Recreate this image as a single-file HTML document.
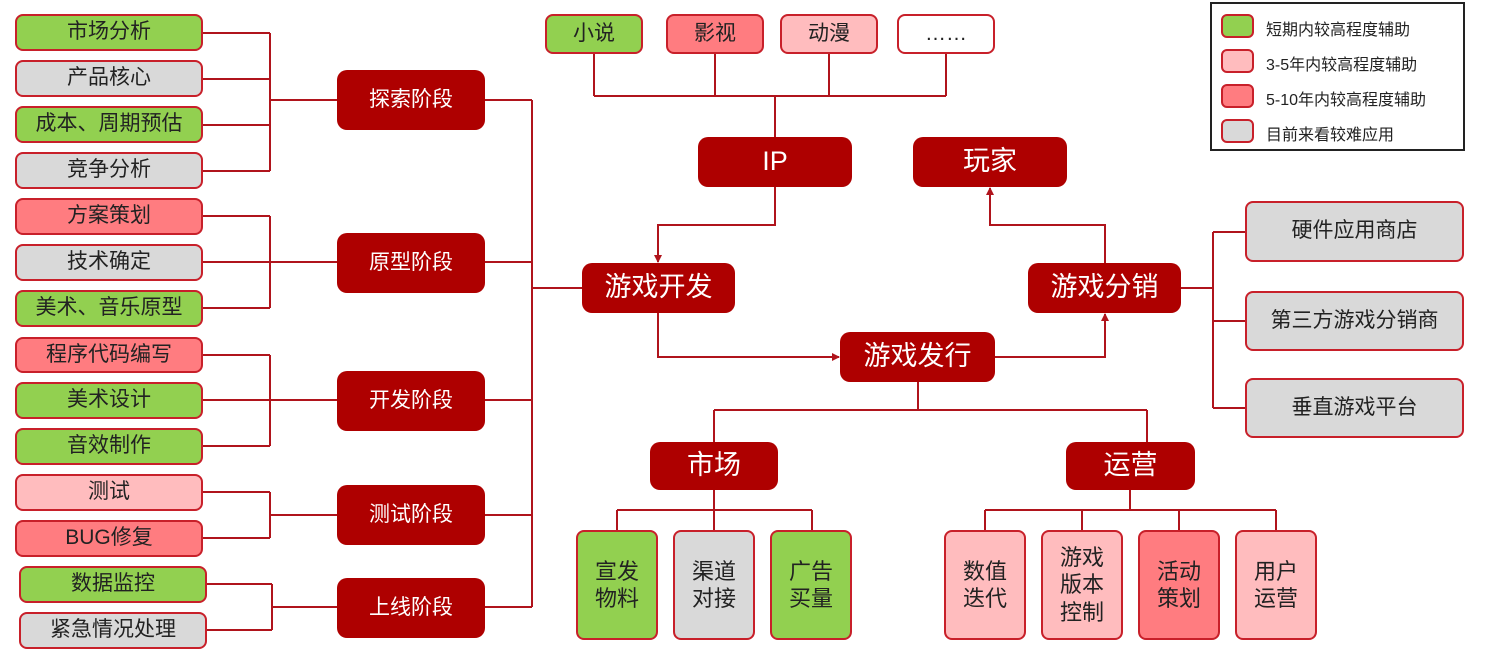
<!DOCTYPE html>
<html><head><meta charset="utf-8"><style>
body{margin:0;width:1492px;height:655px;background:#fff;position:relative;overflow:hidden;font-family:"Liberation Sans","Noto Sans CJK SC",sans-serif}
.b{position:absolute;box-sizing:border-box;border:2px solid #c8202a;border-radius:8px;display:flex;align-items:center;justify-content:center;text-align:center;color:#222;font-size:21px;line-height:1.25}
.g{background:#92d050}.y{background:#d9d9d9}.p{background:#ffbcbe}.r{background:#ff7c80}.w{background:#fff}
.d{background:#ae0000;border:none;color:#fff;border-radius:10px}
.s1{font-size:21px}.s2{font-size:27px}
svg{position:absolute;left:0;top:0}
</style></head><body>
<svg width="1492" height="655" fill="none" stroke="#b0141c" stroke-width="2">
<defs><marker id="a" markerWidth="8" markerHeight="8" refX="7" refY="4" orient="auto" markerUnits="userSpaceOnUse"><path d="M0,0L8,4L0,8z" fill="#b0141c" stroke="none"/></marker></defs>
<path d="M203,33H270M203,79H270M203,125H270M203,171H270M270,33V171M270,100H337"/>
<path d="M203,216H270M203,262H270M203,308H270M270,216V308M270,262H337"/>
<path d="M203,355H270M203,400H270M203,446H270M270,355V446M270,400H337"/>
<path d="M203,492H270M203,538H270M270,492V538M270,515H337"/>
<path d="M207,584H272M207,630H272M272,584V630M272,607H337"/>
<path d="M485,100H532M485,262H532M485,400H532M485,515H532M485,607H532M532,100V607M532,288H582"/>
<path d="M594,54V96M715,54V96M829,54V96M946,54V96M594,96H946M775,96V137"/>
<path d="M775,187V225H658V262" marker-end="url(#a)"/>
<path d="M658,313V357H839" marker-end="url(#a)"/>
<path d="M995,357H1105V314" marker-end="url(#a)"/>
<path d="M1105,263V225H990V188" marker-end="url(#a)"/>
<path d="M1181,288H1213M1213,232V408M1213,232H1245M1213,321H1245M1213,408H1245"/>
<path d="M918,382V410M714,410H1147M714,410V442M1147,410V442"/>
<path d="M714,490V510M617,510H812M617,510V530M714,510V530M812,510V530"/>
<path d="M1130,490V510M985,510H1276M985,510V530M1082,510V530M1179,510V530M1276,510V530"/>
</svg>
<div class="b g" style="left:15px;top:14px;width:188px;height:37px">市场分析</div>
<div class="b y" style="left:15px;top:60px;width:188px;height:37px">产品核心</div>
<div class="b g" style="left:15px;top:106px;width:188px;height:37px">成本、周期预估</div>
<div class="b y" style="left:15px;top:152px;width:188px;height:37px">竞争分析</div>
<div class="b r" style="left:15px;top:198px;width:188px;height:37px">方案策划</div>
<div class="b y" style="left:15px;top:244px;width:188px;height:37px">技术确定</div>
<div class="b g" style="left:15px;top:290px;width:188px;height:37px">美术、音乐原型</div>
<div class="b r" style="left:15px;top:337px;width:188px;height:36px">程序代码编写</div>
<div class="b g" style="left:15px;top:382px;width:188px;height:37px">美术设计</div>
<div class="b g" style="left:15px;top:428px;width:188px;height:37px">音效制作</div>
<div class="b p" style="left:15px;top:474px;width:188px;height:37px">测试</div>
<div class="b r" style="left:15px;top:520px;width:188px;height:37px">BUG修复</div>
<div class="b g" style="left:19px;top:566px;width:188px;height:37px">数据监控</div>
<div class="b y" style="left:19px;top:612px;width:188px;height:37px">紧急情况处理</div>
<div class="b d" style="left:337px;top:70px;width:148px;height:60px">探索阶段</div>
<div class="b d" style="left:337px;top:233px;width:148px;height:60px">原型阶段</div>
<div class="b d" style="left:337px;top:371px;width:148px;height:60px">开发阶段</div>
<div class="b d" style="left:337px;top:485px;width:148px;height:60px">测试阶段</div>
<div class="b d" style="left:337px;top:578px;width:148px;height:60px">上线阶段</div>
<div class="b g" style="left:545px;top:14px;width:98px;height:40px">小说</div>
<div class="b r" style="left:666px;top:14px;width:98px;height:40px">影视</div>
<div class="b p" style="left:780px;top:14px;width:98px;height:40px">动漫</div>
<div class="b w" style="left:897px;top:14px;width:98px;height:40px">……</div>
<div class="b d s2" style="left:698px;top:137px;width:154px;height:50px">IP</div>
<div class="b d s2" style="left:913px;top:137px;width:154px;height:50px">玩家</div>
<div class="b d s2" style="left:582px;top:263px;width:153px;height:50px">游戏开发</div>
<div class="b d s2" style="left:1028px;top:263px;width:153px;height:50px">游戏分销</div>
<div class="b d s2" style="left:840px;top:332px;width:155px;height:50px">游戏发行</div>
<div class="b y" style="left:1245px;top:201px;width:219px;height:61px">硬件应用商店</div>
<div class="b y" style="left:1245px;top:291px;width:219px;height:60px">第三方游戏分销商</div>
<div class="b y" style="left:1245px;top:378px;width:219px;height:60px">垂直游戏平台</div>
<div class="b d s2" style="left:650px;top:442px;width:128px;height:48px">市场</div>
<div class="b d s2" style="left:1066px;top:442px;width:129px;height:48px">运营</div>
<div class="b g" style="left:576px;top:530px;width:82px;height:110px;font-size:22px">宣发<br>物料</div>
<div class="b y" style="left:673px;top:530px;width:82px;height:110px;font-size:22px">渠道<br>对接</div>
<div class="b g" style="left:770px;top:530px;width:82px;height:110px;font-size:22px">广告<br>买量</div>
<div class="b p" style="left:944px;top:530px;width:82px;height:110px;font-size:22px">数值<br>迭代</div>
<div class="b p" style="left:1041px;top:530px;width:82px;height:110px;font-size:22px">游戏<br>版本<br>控制</div>
<div class="b r" style="left:1138px;top:530px;width:82px;height:110px;font-size:22px">活动<br>策划</div>
<div class="b p" style="left:1235px;top:530px;width:82px;height:110px;font-size:22px">用户<br>运营</div>
<div style="position:absolute;left:1210px;top:2px;width:255px;height:149px;box-sizing:border-box;border:2px solid #222;font-size:16px;color:#222">
<div class="b g" style="left:9px;top:10px;width:33px;height:24px;border-radius:6px"></div>
<div class="b p" style="left:9px;top:45px;width:33px;height:24px;border-radius:6px"></div>
<div class="b r" style="left:9px;top:80px;width:33px;height:24px;border-radius:6px"></div>
<div class="b y" style="left:9px;top:115px;width:33px;height:24px;border-radius:6px"></div>
<div style="position:absolute;left:54px;top:12px">短期内较高程度辅助</div>
<div style="position:absolute;left:54px;top:47px">3-5年内较高程度辅助</div>
<div style="position:absolute;left:54px;top:82px">5-10年内较高程度辅助</div>
<div style="position:absolute;left:54px;top:117px">目前来看较难应用</div>
</div>
</body></html>
